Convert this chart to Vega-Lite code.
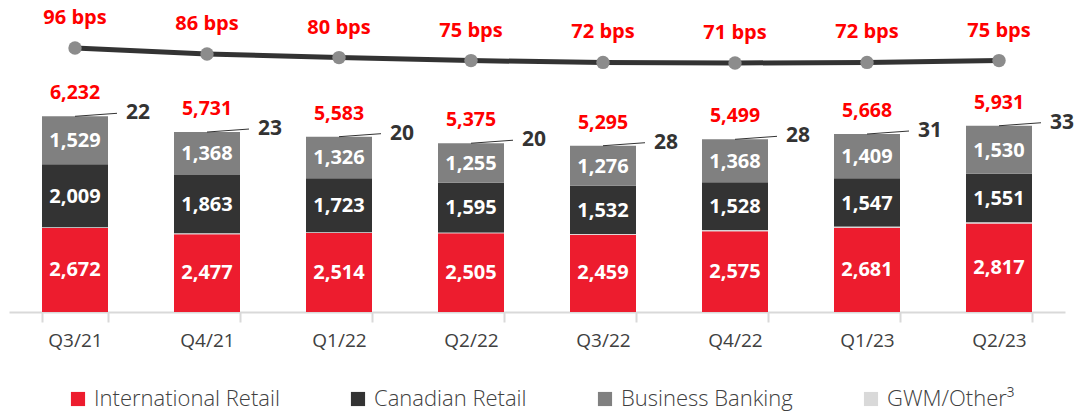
{
  "$schema": "https://vega.github.io/schema/vega-lite/v6.json",
  "width": 1056,
  "height": 312,
  "autosize": {"type": "none"},
  "padding": {"left": 9, "right": 9, "top": 0, "bottom": 104},
  "config": {"view": {"stroke": null}, "font": "Open Sans"},
  "datasets": {
    "segments": [
      {"quarter": "Q3/21", "segment": "International Retail", "value": 2672},
      {"quarter": "Q3/21", "segment": "Canadian Retail", "value": 2009},
      {"quarter": "Q3/21", "segment": "Business Banking", "value": 1529},
      {"quarter": "Q3/21", "segment": "GWM/Other³", "value": 22},
      {"quarter": "Q4/21", "segment": "International Retail", "value": 2477},
      {"quarter": "Q4/21", "segment": "Canadian Retail", "value": 1863},
      {"quarter": "Q4/21", "segment": "Business Banking", "value": 1368},
      {"quarter": "Q4/21", "segment": "GWM/Other³", "value": 23},
      {"quarter": "Q1/22", "segment": "International Retail", "value": 2514},
      {"quarter": "Q1/22", "segment": "Canadian Retail", "value": 1723},
      {"quarter": "Q1/22", "segment": "Business Banking", "value": 1326},
      {"quarter": "Q1/22", "segment": "GWM/Other³", "value": 20},
      {"quarter": "Q2/22", "segment": "International Retail", "value": 2505},
      {"quarter": "Q2/22", "segment": "Canadian Retail", "value": 1595},
      {"quarter": "Q2/22", "segment": "Business Banking", "value": 1255},
      {"quarter": "Q2/22", "segment": "GWM/Other³", "value": 20},
      {"quarter": "Q3/22", "segment": "International Retail", "value": 2459},
      {"quarter": "Q3/22", "segment": "Canadian Retail", "value": 1532},
      {"quarter": "Q3/22", "segment": "Business Banking", "value": 1276},
      {"quarter": "Q3/22", "segment": "GWM/Other³", "value": 28},
      {"quarter": "Q4/22", "segment": "International Retail", "value": 2575},
      {"quarter": "Q4/22", "segment": "Canadian Retail", "value": 1528},
      {"quarter": "Q4/22", "segment": "Business Banking", "value": 1368},
      {"quarter": "Q4/22", "segment": "GWM/Other³", "value": 28},
      {"quarter": "Q1/23", "segment": "International Retail", "value": 2681},
      {"quarter": "Q1/23", "segment": "Canadian Retail", "value": 1547},
      {"quarter": "Q1/23", "segment": "Business Banking", "value": 1409},
      {"quarter": "Q1/23", "segment": "GWM/Other³", "value": 31},
      {"quarter": "Q2/23", "segment": "International Retail", "value": 2817},
      {"quarter": "Q2/23", "segment": "Canadian Retail", "value": 1551},
      {"quarter": "Q2/23", "segment": "Business Banking", "value": 1530},
      {"quarter": "Q2/23", "segment": "GWM/Other³", "value": 33}
    ],
    "margin": [
      {"quarter": "Q3/21", "bps": 96},
      {"quarter": "Q4/21", "bps": 86},
      {"quarter": "Q1/22", "bps": 80},
      {"quarter": "Q2/22", "bps": 75},
      {"quarter": "Q3/22", "bps": 72},
      {"quarter": "Q4/22", "bps": 71},
      {"quarter": "Q1/23", "bps": 72},
      {"quarter": "Q2/23", "bps": 75}
    ]
  },
  "encoding": {
    "x": {
      "field": "quarter",
      "type": "nominal",
      "sort": null,
      "scale": {
        "domain": ["Q3/21", "Q4/21", "Q1/22", "Q2/22", "Q3/22", "Q4/22", "Q1/23", "Q2/23"],
        "paddingInner": 0.5,
        "paddingOuter": 0.25
      },
      "axis": {
        "title": null,
        "labelAngle": 0,
        "domainColor": "#D9D9D9",
        "domainWidth": 2,
        "tickColor": "#D9D9D9",
        "tickWidth": 2,
        "tickSize": 10,
        "tickBand": "extent",
        "labelFontSize": 19,
        "labelColor": "#404040",
        "labelPadding": 9,
        "labelFont": "Open Sans"
      }
    }
  },
  "layer": [
    {
      "data": {"name": "segments"},
      "layer": [
        {
          "mark": {"type": "bar"},
          "encoding": {
            "y": {"field": "value", "type": "quantitative", "stack": "zero", "scale": {"domain": [0, 9936], "nice": false, "zero": false}, "axis": null},
            "color": {
              "field": "segment",
              "type": "nominal",
              "sort": ["International Retail", "Canadian Retail", "Business Banking", "GWM/Other³"],
              "scale": {
                "domain": ["International Retail", "Canadian Retail", "Business Banking", "GWM/Other³"],
                "range": ["#ED1C2E", "#333333", "#808080", "#D9D9D9"]
              },
              "legend": {
                "orient": "none",
                "legendX": 58,
                "legendY": 388,
                "direction": "horizontal",
                "title": null,
                "symbolType": "square",
                "symbolSize": 200,
                "symbolStrokeWidth": 0,
                "labelFontSize": 22,
                "labelFontWeight": 300,
                "labelFont": "Open Sans",
                "labelColor": "#404040",
                "labelLimit": 400,
                "columnPadding": 67,
                "labelOffset": 5,
                "padding": 0
              }
            }
          }
        },
        {
          "transform": [{"filter": "datum.segment !== 'GWM/Other³'"}],
          "mark": {"type": "text", "color": "#FFFFFF", "fontSize": 20, "fontWeight": "bold", "baseline": "middle", "align": "center"},
          "encoding": {
            "y": {"field": "value", "type": "quantitative", "stack": "zero", "bandPosition": 0.5},
            "text": {"field": "value", "type": "quantitative", "format": ","}
          }
        },
        {
          "transform": [
            {"joinaggregate": [{"op": "sum", "field": "value", "as": "total"}], "groupby": ["quarter"]},
            {"filter": "datum.segment === 'GWM/Other³'"}
          ],
          "layer": [
            {
              "mark": {"type": "text", "color": "#FF0000", "fontSize": 19.5, "fontWeight": "bold", "baseline": "middle", "align": "center", "dy": -23},
              "encoding": {
                "y": {"field": "total", "type": "quantitative"},
                "text": {"field": "total", "type": "quantitative", "format": ","}
              }
            },
            {
              "mark": {"type": "text", "color": "#333333", "fontSize": 21, "fontWeight": "bold", "baseline": "middle", "align": "left", "dx": 51, "dy": -3},
              "encoding": {
                "y": {"field": "total", "type": "quantitative"},
                "text": {"field": "value", "type": "quantitative"}
              }
            },
            {
              "mark": {"type": "rule", "color": "#333333", "strokeWidth": 1, "x2Offset": 42, "y2Offset": -3},
              "encoding": {
                "x": {"field": "quarter", "type": "nominal", "bandPosition": 0.5},
                "x2": {"field": "quarter", "bandPosition": 0.5},
                "y": {"field": "total", "type": "quantitative"},
                "y2": {"field": "total"}
              }
            }
          ]
        }
      ]
    },
    {
      "data": {"name": "margin"},
      "layer": [
        {
          "mark": {"type": "line", "color": "#333333", "strokeWidth": 5},
          "encoding": {
            "y": {"field": "bps", "type": "quantitative", "scale": {"domain": [-344, 176], "nice": false, "zero": false}, "axis": null}
          }
        },
        {
          "mark": {"type": "circle", "color": "#8C8C8C", "opacity": 1, "size": 180},
          "encoding": {
            "y": {"field": "bps", "type": "quantitative"}
          }
        },
        {
          "mark": {"type": "text", "color": "#FF0000", "fontSize": 20, "fontWeight": "bold", "baseline": "middle", "align": "center", "dy": -30, "text": {"expr": "datum.bps + ' bps'"}},
          "encoding": {
            "y": {"field": "bps", "type": "quantitative"}
          }
        }
      ]
    }
  ],
  "resolve": {"scale": {"y": "independent"}}
}
